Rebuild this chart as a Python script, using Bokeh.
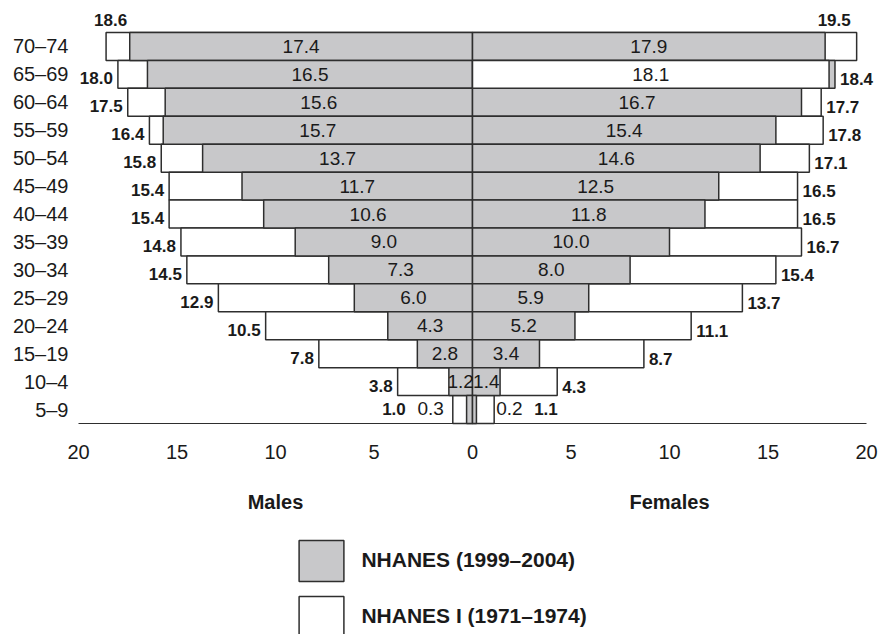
from bokeh.plotting import figure
from bokeh.models import (ColumnDataSource, Range1d, FixedTicker, Legend,
                          LegendItem, LinearAxis)
from bokeh.core.properties import value
from bokeh.embed import file_html
from bokeh.resources import INLINE

# ---------------- data (top row first) ----------------
ages = ["70–74", "65–69", "60–64", "55–59", "50–54", "45–49", "40–44",
        "35–39", "30–34", "25–29", "20–24", "15–19", "10–4", "5–9"]
male_1999 = [17.4, 16.5, 15.6, 15.7, 13.7, 11.7, 10.6, 9.0, 7.3, 6.0, 4.3, 2.8, 1.2, 0.3]
male_1971 = [18.6, 18.0, 17.5, 16.4, 15.8, 15.4, 15.4, 14.8, 14.5, 12.9, 10.5, 7.8, 3.8, 1.0]
female_1999 = [17.9, 18.4, 16.7, 15.4, 14.6, 12.5, 11.8, 10.0, 8.0, 5.9, 5.2, 3.4, 1.4, 0.2]
female_1971 = [19.5, 18.1, 17.7, 17.8, 17.1, 16.5, 16.5, 16.7, 15.4, 13.7, 11.1, 8.7, 4.3, 1.1]
x_ticks = [-20, -15, -10, -5, 0, 5, 10, 15, 20]
x_tick_labels = ["20", "15", "10", "5", "0", "5", "10", "15", "20"]
sex_labels = ["Males", "Females"]
sex_label_x = [-10, 10]
series_names = ["NHANES (1999–2004)", "NHANES I (1971–1974)"]

# ---------------- style ----------------
GRAY = "#c8c8ca"
EDGE = "#2e2e2e"
INK = "#1a1a1a"
FONT = "Liberation Sans"

n = len(ages)
row_base = [n - 1 - k for k in range(n)]          # bottom of each row band
row_mid = [b + 0.5 for b in row_base]

# ---------------- bar sources ----------------
def empty():
    return dict(left=[], right=[], bottom=[], top=[])

back_white, gray_all, front_white = empty(), empty(), empty()

def add(d, v, sign, k):
    d["left"].append(min(0, sign * v))
    d["right"].append(max(0, sign * v))
    d["bottom"].append(row_base[k])
    d["top"].append(row_base[k] + 1)

for sign, new, old in ((-1, male_1999, male_1971), (1, female_1999, female_1971)):
    for k in range(n):
        add(gray_all, new[k], sign, k)
        if old[k] >= new[k]:
            add(back_white, old[k], sign, k)
        else:
            add(front_white, old[k], sign, k)

# ---------------- labels ----------------
inside = dict(x=[], y=[], text=[])
small_m = dict(x=[], y=[], text=[], xo=[], yo=[])
small_f = dict(x=[], y=[], text=[], xo=[], yo=[])
bold_m = dict(x=[], y=[], text=[], xo=[], yo=[])
bold_f = dict(x=[], y=[], text=[], xo=[], yo=[])

for sign, new, old in ((-1, male_1999, male_1971), (1, female_1999, female_1971)):
    for k in range(n):
        lo, hi = min(new[k], old[k]), max(new[k], old[k])
        y = row_mid[k]
        tiny = lo < 1
        if not tiny:
            inside["x"].append(sign * lo / 2)
            inside["y"].append(y)
            inside["text"].append(f"{lo:.1f}")
        else:
            d = small_m if sign < 0 else small_f
            d["x"].append(sign * hi)
            d["y"].append(y)
            d["text"].append(f"{lo:.1f}")
            d["xo"].append(-9 if sign < 0 else 2)
            d["yo"].append(-1)
        b = bold_m if sign < 0 else bold_f
        b["x"].append(sign * hi)
        b["y"].append(y)
        b["text"].append(f"{hi:.1f}")
        if k == 0:
            b["xo"].append(21 if sign < 0 else -39)
            b["yo"].append(-26.5)
        elif tiny:
            b["xo"].append(-47 if sign < 0 else 40)
            b["yo"].append(-1)
        else:
            b["xo"].append(-5 if sign < 0 else 5)
            b["yo"].append(4 if sign < 0 else 5)

# ---------------- figure ----------------
PX = 19.7            # pixels per unit on x
ROW = 27.93          # pixels per row
W, H = 878, 634
x0 = -472 / PX
y_top = 423 / ROW
p = figure(width=W, height=H,
           x_range=Range1d(x0, x0 + W / PX),
           y_range=Range1d(y_top - H / ROW, y_top),
           output_backend="svg", toolbar_location=None,
           x_axis_type=None, y_axis_type=None, title=None,
           min_border=0, outline_line_color=None)
p.xgrid.visible = False
p.ygrid.visible = False
p.background_fill_color = "white"
p.border_fill_color = "white"

bar_kw = dict(line_color=EDGE, line_width=1.5)
r_white = p.quad(source=ColumnDataSource(back_white), fill_color="white", **bar_kw)
r_gray = p.quad(source=ColumnDataSource(gray_all), fill_color=GRAY, **bar_kw)
p.quad(source=ColumnDataSource(front_white), fill_color="white", **bar_kw)

txt = dict(text_font=value(FONT), text_color=INK, text_baseline="middle")
p.text(x="x", y="y", text="text", source=ColumnDataSource(inside),
       text_align="center", text_font_size="19px", **txt)
p.text(x="x", y="y", text="text", x_offset="xo", y_offset="yo",
       source=ColumnDataSource(small_m), text_align="right",
       text_font_size="19px", **txt)
p.text(x="x", y="y", text="text", x_offset="xo", y_offset="yo",
       source=ColumnDataSource(small_f), text_align="left",
       text_font_size="19px", **txt)
p.text(x="x", y="y", text="text", x_offset="xo", y_offset="yo",
       source=ColumnDataSource(bold_m), text_align="right",
       text_font_size="17px", text_font_style="bold", **txt)
p.text(x="x", y="y", text="text", x_offset="xo", y_offset="yo",
       source=ColumnDataSource(bold_f), text_align="left",
       text_font_size="17px", text_font_style="bold", **txt)

# Males / Females
p.text(x=sex_label_x, y=[-2.82] * 2, text=sex_labels, text_align="center",
       text_font_size="20px", text_font_style="bold", **txt)

# x axis along y = 0
xaxis = LinearAxis(fixed_location=0, bounds=(-20, 20),
                   ticker=FixedTicker(ticks=x_ticks),
                   major_label_overrides=dict(zip(x_ticks, x_tick_labels)),
                   axis_line_color=EDGE, axis_line_width=1.2,
                   major_tick_line_color=None, minor_tick_line_color=None,
                   major_tick_out=0, major_tick_in=0,
                   major_label_standoff=21,
                   major_label_text_font=FONT,
                   major_label_text_font_size="20px",
                   major_label_text_color=INK)
p.add_layout(xaxis, "below")

# age-group axis at x = -20
yaxis = LinearAxis(fixed_location=-20,
                   ticker=FixedTicker(ticks=row_mid),
                   major_label_overrides=dict(zip(row_mid, ages)),
                   axis_line_color=None,
                   major_tick_line_color=None, minor_tick_line_color=None,
                   major_tick_out=0, major_tick_in=0,
                   major_label_standoff=10,
                   major_label_text_font=FONT,
                   major_label_text_font_size="20px",
                   major_label_text_color=INK)
p.add_layout(yaxis, "left")

legend = Legend(items=[LegendItem(label=series_names[0], renderers=[r_gray]),
                       LegendItem(label=series_names[1], renderers=[r_white])],
                location=(293.4, -7.9), orientation="vertical",
                glyph_width=56, glyph_height=51, spacing=5,
                padding=0, margin=0, label_standoff=12,
                label_text_font=FONT, label_text_font_size="21px",
                label_text_font_style="bold", label_text_color=INK,
                border_line_color=None, background_fill_alpha=0)
p.add_layout(legend)

open("out.html", "w").write(file_html(p, INLINE))
